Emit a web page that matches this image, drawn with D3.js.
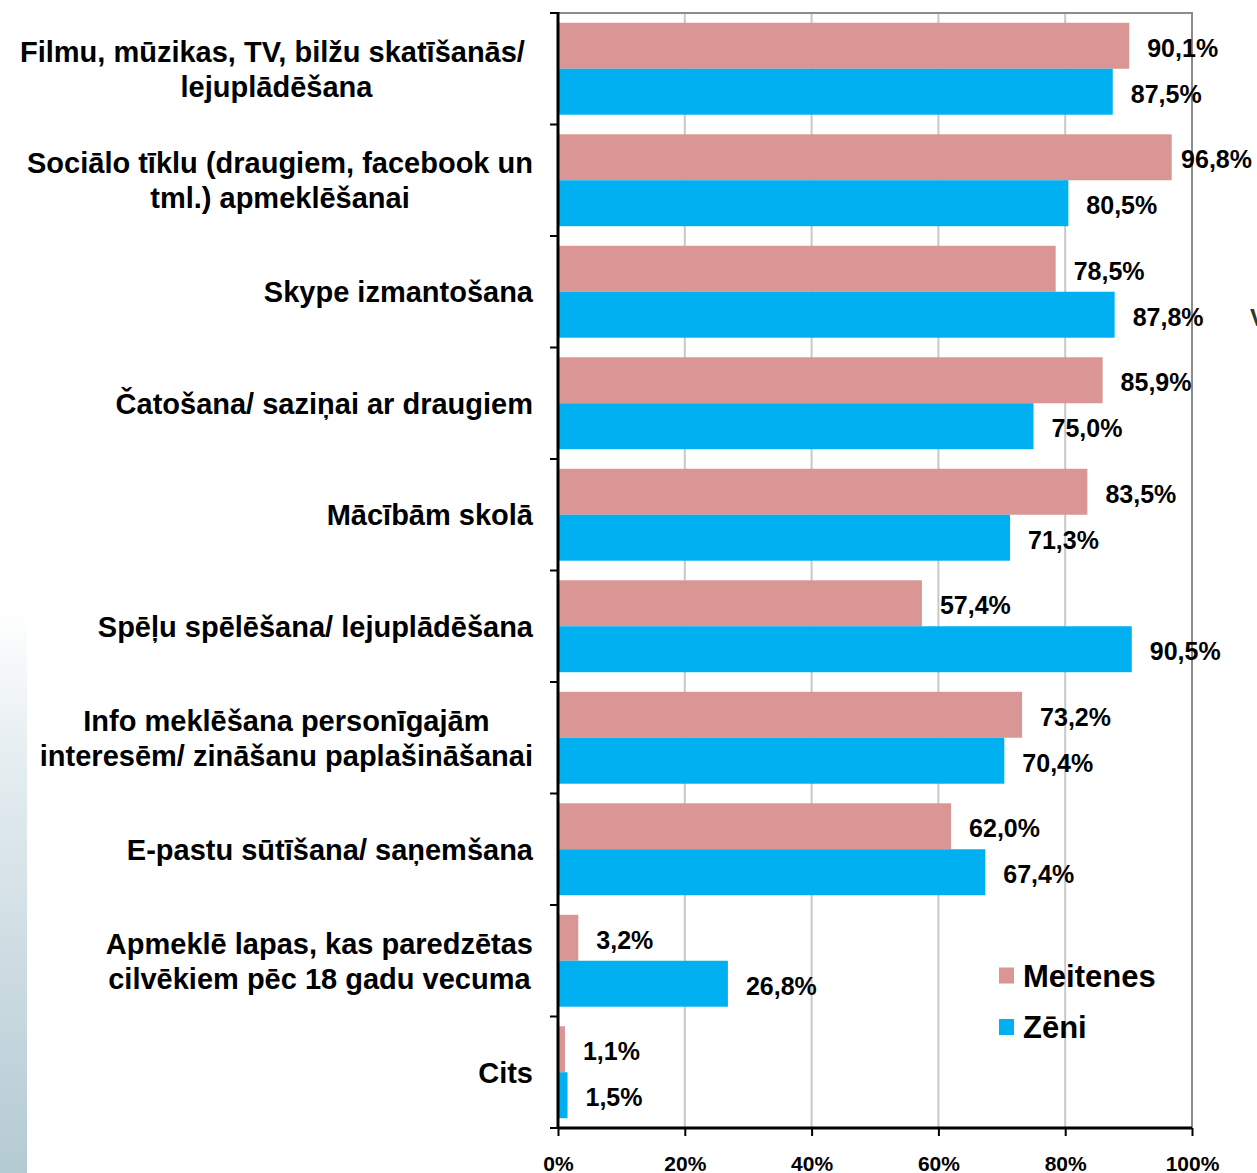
<!DOCTYPE html>
<html><head><meta charset="utf-8">
<script src="https://cdn.jsdelivr.net/npm/d3@7"></script>
<style>body{margin:0;background:#fff;} svg{display:block;}</style>
</head><body>
<svg id="c" width="1257" height="1173"></svg>
<script>
const categories = [
  ["Filmu, mūzikas, TV, bilžu skatīšanās/ ", "lejuplādēšana"],
  ["Sociālo tīklu (draugiem, facebook un", "tml.) apmeklēšanai"],
  ["Skype izmantošana"],
  ["Čatošana/ saziņai ar draugiem"],
  ["Mācībām skolā"],
  ["Spēļu spēlēšana/ lejuplādēšana"],
  ["Info meklēšana personīgajām", "interesēm/ zināšanu paplašināšanai"],
  ["E-pastu sūtīšana/ saņemšana"],
  ["Apmeklē lapas, kas paredzētas", "cilvēkiem pēc 18 gadu vecuma"],
  ["Cits"]
];
const seriesNames = ["Meitenes", "Zēni"];
const meitenes = [90.1, 96.8, 78.5, 85.9, 83.5, 57.4, 73.2, 62.0, 3.2, 1.1];
const zeni = [87.5, 80.5, 87.8, 75.0, 71.3, 90.5, 70.4, 67.4, 26.8, 1.5];
const xTicks = [0, 20, 40, 60, 80, 100];
const colors = ["#d99694", "#00b0f0"];

const svg = d3.select("#c");
const font = "'Liberation Sans', Arial, sans-serif";
const L = 558, R = 1192, T = 13, B = 1128;

// left decorative gradient strip
const defs = svg.append("defs");
const g1 = defs.append("linearGradient").attr("id","lg").attr("x1",0).attr("y1",0).attr("x2",0).attr("y2",1);
g1.append("stop").attr("offset","0").attr("stop-color","#ffffff");
g1.append("stop").attr("offset","0.25").attr("stop-color","#e6eef1");
g1.append("stop").attr("offset","1").attr("stop-color","#b4cad3");
svg.append("rect").attr("x",0).attr("y",610).attr("width",27).attr("height",563).attr("fill","url(#lg)");

const x = d3.scaleLinear().domain([0,100]).range([L,R]);
const idx = d3.range(categories.length);
const y = d3.scaleBand().domain(idx).range([T,B]).padding(0);
const y1 = d3.scaleBand().domain([0,1]).range([0,y.bandwidth()]).paddingInner(0).paddingOuter(0.213);

// gridlines
svg.append("g").selectAll("line").data(xTicks.slice(1,-1)).join("line")
  .attr("x1",d=>x(d)).attr("x2",d=>x(d)).attr("y1",T).attr("y2",B)
  .attr("stroke","#c8c8c8").attr("stroke-width",2);
// plot border (top & right)
svg.append("path").attr("d",`M${L},${T}H${R}V${B}`).attr("fill","none").attr("stroke","#8c8c8c").attr("stroke-width",2);

// bars
const data = [meitenes, zeni];
const gb = svg.append("g");
const maxRight = 1252;
data.forEach((arr, s) => {
  gb.append("g").selectAll("rect").data(arr).join("rect")
    .attr("x", x(0)).attr("y", (d,i)=>y(i)+y1(s))
    .attr("width", d=>x(d)-x(0)).attr("height", y1.bandwidth())
    .attr("fill", colors[s]);
  gb.append("g").selectAll("text").data(arr).join("text")
    .attr("y",(d,i)=>y(i)+y1(s)+y1.bandwidth()/2+2)
    .attr("dy","0.36em")
    .attr("font-family",font).attr("font-weight","bold").attr("font-size",25)
    .attr("fill","#000")
    .text(d=>d.toFixed(1).replace(".",",")+"%")
    .attr("x", function(d){ const w=this.getComputedTextLength(); return Math.min(x(d)+18, maxRight-w); });
});

// x axis
const xa = svg.append("g").attr("transform",`translate(0,${B})`)
  .call(d3.axisBottom(x).tickValues(xTicks).tickSize(8).tickFormat(d=>d+"%"));
xa.select(".domain").attr("stroke","#000").attr("stroke-width",3).attr("d",`M${L},0H${R}`);
xa.selectAll(".tick line").attr("stroke","#000").attr("stroke-width",2);
xa.selectAll(".tick text").attr("font-family",font).attr("font-weight","bold").attr("font-size",21)
  .attr("y",28).attr("dy","0.71em").attr("fill","#000");

// y axis line and ticks at band boundaries
const boundaries = idx.map(i=>y(i)).concat([B]);
svg.append("g").selectAll("line").data(boundaries).join("line")
  .attr("x1",L-8).attr("x2",L).attr("y1",d=>d).attr("y2",d=>d).attr("stroke","#000").attr("stroke-width",2);
svg.append("line").attr("x1",L).attr("x2",L).attr("y1",T-1).attr("y2",B+1).attr("stroke","#000").attr("stroke-width",3);

// category labels
const labRight = 533, fs = 29, lh = 35;
const gl = svg.append("g");
categories.forEach((lines,i) => {
  const cy = y(i) + y.bandwidth()/2;
  const t = gl.append("text").attr("font-family",font).attr("font-weight","bold").attr("font-size",fs).attr("fill","#000")
    .attr("text-anchor","middle").style("white-space","pre");
  const n = lines.length;
  lines.forEach((ln,k)=>{
    t.append("tspan").attr("x",0).attr("y", cy + (k-(n-1)/2)*lh).attr("dy","0.36em").text(ln);
  });
  const w = d3.max(t.selectAll("tspan").nodes(), nd=>nd.getComputedTextLength());
  t.selectAll("tspan").attr("x", labRight - w/2);
});

// legend
const lg = svg.append("g");
seriesNames.forEach((nm,s)=>{
  const ly = 975.5 + s*51.5;
  lg.append("rect").attr("x",999).attr("y",ly-8).attr("width",15).attr("height",16).attr("fill",colors[s]);
  lg.append("text").attr("x",1023).attr("y",ly).attr("dy","0.36em").attr("font-family",font)
    .attr("font-weight","bold").attr("font-size",31).attr("fill","#000").text(nm);
});

// clipped edge glyph at right
svg.append("text").attr("x",1250).attr("y",326).attr("font-family",font).attr("font-weight","bold")
  .attr("font-size",24).attr("fill","#2a3a2a").text("V");
</script>
</body></html>
